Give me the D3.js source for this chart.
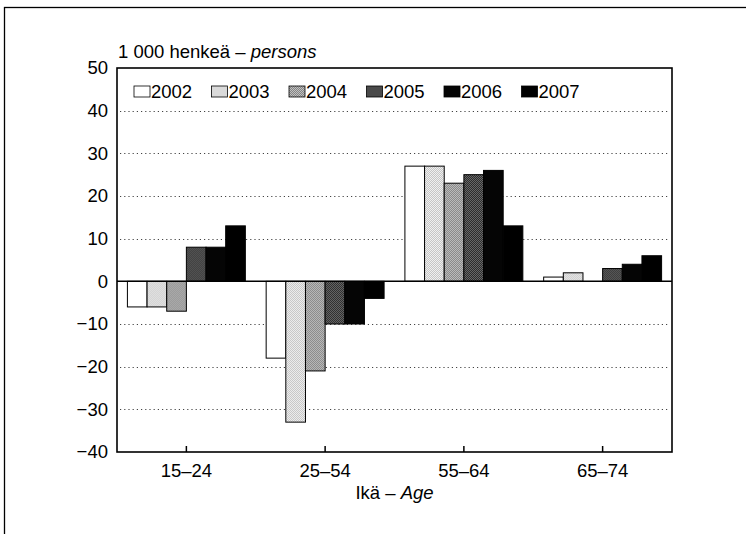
<!DOCTYPE html>
<html lang="fi">
  <head>
    <meta http-equiv="Content-Type" content="text/html; charset=utf-8"/>
    <style>
body {
  margin: 0;
  background: #fff;
}
text {
  font-family: "Liberation Sans", Arial, Helvetica, sans-serif;
  fill: #000;
}
.grid line {
  stroke: #444;
  stroke-width: 1;
  stroke-dasharray: 1.2,3;
}
    </style>
  </head>
  <body>
    <svg width="746" height="534"></svg>
    <script src="https://cdn.jsdelivr.net/npm/d3@7"></script>
    <script>

// age groups and years
var ages = ['15–24', '25–54', '55–64', '65–74'];
var years = ['2002', '2003', '2004', '2005', '2006', '2007'];

// change, 1 000 persons, one array per year (same order as ages)
var v2002 = [-6, -18, 27, 1];
var v2003 = [-6, -33, 27, 2];
var v2004 = [-7, -21, 23, 0];
var v2005 = [8, -10, 25, 3];
var v2006 = [8, -10, 26, 4];
var v2007 = [13, -4, 13, 6];
var series = [v2002, v2003, v2004, v2005, v2006, v2007];

var yTicks = [50, 40, 30, 20, 10, 0, -10, -20, -30, -40];

var svg = d3.select('svg');

var plotL = 117, plotR = 672, plotT = 68, plotB = 452;
var fs = '18.5px';

// outer frame
svg.append('rect')
  .attr('x', 4.5).attr('y', 7.5)
  .attr('width', 760).attr('height', 540)
  .attr('fill', 'none')
  .attr('stroke', '#000')
  .attr('stroke-width', 1.3);

// fill patterns (halftone look)
var defs = svg.append('defs');
var pats = [
  null,
  ['#f4f4f4', '#c0c0c0'],
  ['#c0c0c0', '#848484'],
  ['#6e6e6e', '#262626'],
  null,
  null
];
pats.forEach(function(p, i) {
  if (!p) return;
  var pt = defs.append('pattern')
    .attr('id', 'pat' + i)
    .attr('width', 2).attr('height', 2)
    .attr('patternUnits', 'userSpaceOnUse');
  pt.append('rect').attr('width', 2).attr('height', 2).attr('fill', p[0]);
  pt.append('rect').attr('width', 1).attr('height', 1).attr('fill', p[1]);
  pt.append('rect').attr('x', 1).attr('y', 1).attr('width', 1).attr('height', 1).attr('fill', p[1]);
});
var fills = ['#fff', 'url(#pat1)', 'url(#pat2)', 'url(#pat3)', '#050505', '#000'];

var x0 = d3.scaleBand().domain(ages).range([plotL, plotR]).paddingInner(0.15).paddingOuter(0.075);
var x1 = d3.scaleBand().domain(years).range([0, x0.bandwidth()]);
var y = d3.scaleLinear().domain([-40, 50]).range([plotB, plotT]);

// gridlines
svg.append('g')
  .attr('class', 'grid')
  .selectAll('line')
  .data(yTicks.filter(function(d) { return d !== 0 && d !== 50 && d !== -40; }))
  .enter()
  .append('line')
  .attr('x1', plotL + 3).attr('x2', plotR - 2)
  .attr('y1', function(d) { return Math.round(y(d)) + 0.5; })
  .attr('y2', function(d) { return Math.round(y(d)) + 0.5; });

// bars
var groups = svg.append('g')
  .selectAll('g')
  .data(ages)
  .enter()
  .append('g')
  .attr('transform', function(d) { return 'translate(' + x0(d) + ',0)'; });

groups.selectAll('rect')
  .data(function(d, i) {
    return years.map(function(yr, j) { return { year: yr, idx: j, value: series[j][i] }; })
      .filter(function(b) { return b.value !== 0; });
  })
  .enter()
  .append('rect')
  .attr('x', function(d) { return x1(d.year); })
  .attr('width', x1.bandwidth())
  .attr('y', function(d) { return y(Math.max(0, d.value)); })
  .attr('height', function(d) { return Math.abs(y(d.value) - y(0)); })
  .attr('fill', function(d) { return fills[d.idx]; })
  .attr('stroke', '#000')
  .attr('stroke-width', 1);

// zero line
svg.append('line')
  .attr('x1', plotL).attr('x2', plotR)
  .attr('y1', y(0)).attr('y2', y(0))
  .attr('stroke', '#000').attr('stroke-width', 1.5);

// plot frame
svg.append('rect')
  .attr('x', plotL).attr('y', plotT)
  .attr('width', plotR - plotL).attr('height', plotB - plotT)
  .attr('fill', 'none')
  .attr('stroke', '#000')
  .attr('stroke-width', 1.6);

// y axis labels
svg.append('g')
  .selectAll('text')
  .data(yTicks)
  .enter()
  .append('text')
  .attr('x', 108)
  .attr('y', function(d) { return y(d); })
  .attr('dy', '0.35em')
  .attr('text-anchor', 'end')
  .style('font-size', fs)
  .text(function(d) { return d < 0 ? '\u2212' + Math.abs(d) : d; });

// x axis: inward ticks and labels
var xAxis = d3.axisBottom(x0).tickSizeInner(-6).tickSizeOuter(0).tickPadding(12);
var gx = svg.append('g')
  .attr('transform', 'translate(0,' + plotB + ')')
  .call(xAxis);
gx.select('.domain').remove();
gx.selectAll('.tick line').attr('stroke', '#000').attr('stroke-width', 1.5);
gx.selectAll('.tick text')
  .style('font-family', '"Liberation Sans", Arial, sans-serif')
  .style('font-size', fs)
  .attr('fill', '#000');

// unit title
var unit = svg.append('text')
  .attr('x', 118).attr('y', 58)
  .style('font-size', fs);
unit.append('tspan').text('1 000 henkeä – ');
unit.append('tspan').style('font-style', 'italic').text('persons');

// axis title
var at = svg.append('text')
  .attr('x', (plotL + plotR) / 2).attr('y', 499)
  .attr('text-anchor', 'middle')
  .style('font-size', fs);
at.append('tspan').text('Ikä – ');
at.append('tspan').style('font-style', 'italic').text('Age');

// legend
var leg = svg.append('g')
  .selectAll('g')
  .data(years)
  .enter()
  .append('g')
  .attr('transform', function(d, i) { return 'translate(' + (134 + i * 77.5) + ',86)'; });
leg.append('rect')
  .attr('width', 16).attr('height', 11)
  .attr('y', 0)
  .attr('fill', function(d, i) { return fills[i]; })
  .attr('stroke', '#000').attr('stroke-width', 0.8);
leg.append('text')
  .attr('x', 17).attr('y', 6)
  .attr('dy', '0.35em')
  .style('font-size', fs)
  .text(function(d) { return d; });

    </script>
  </body>
</html>
